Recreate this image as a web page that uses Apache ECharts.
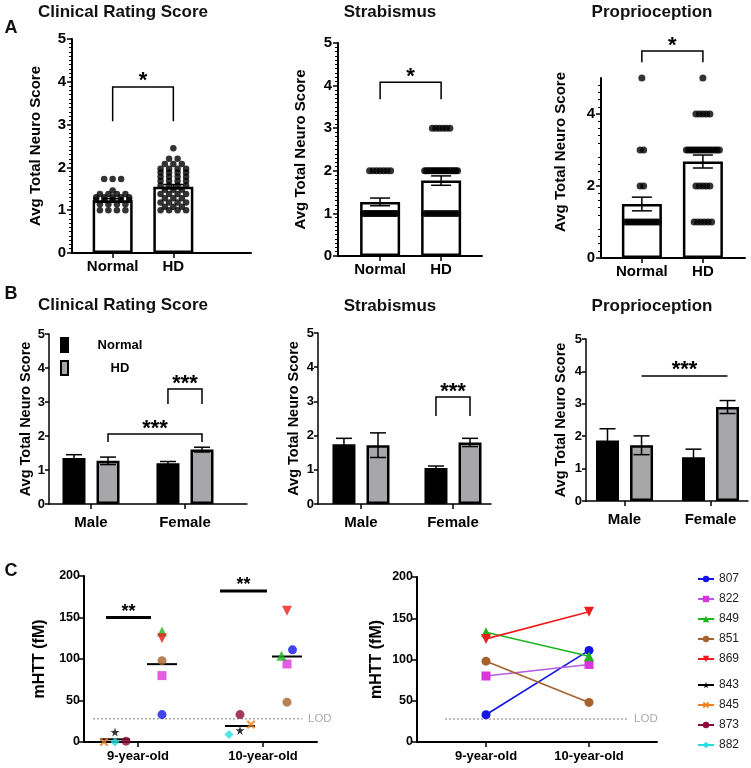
<!DOCTYPE html>
<html><head><meta charset="utf-8">
<script src="https://cdn.jsdelivr.net/npm/echarts@6/dist/echarts.min.js"></script>
<style>html,body{margin:0;padding:0;background:#fff}#c{width:751px;height:768px}</style>
</head><body><div id="c"></div>
<script>
// ================= DATA =================
const groupsA = ['Normal', 'HD'];
const clinicalNormalA = [1.73,1.73,1.73,1.46,1.38,1.38,1.38,1.38,1.30,1.30,1.30,1.30,1.30,1.24,1.24,1.24,1.24,1.24,1.14,1.14,1.14,1.14,1.00,1.00,1.00,1.00];
const clinicalHDA = [2.45,2.20,2.20,2.08,2.08,2.08,1.97,1.97,1.97,1.97,1.88,1.88,1.88,1.88,1.78,1.78,1.78,1.78,1.68,1.68,1.68,1.68,1.58,1.58,1.58,1.58,1.48,1.48,1.48,1.38,1.38,1.38,1.38,1.28,1.28,1.28,1.18,1.18,1.18,1.18,1.08,1.08,1.08,1.00,1.00,1.00,1.00];
const clinicalMeanA = [1.23, 1.55];
const clinicalSemA = [0.04, 0.05];
const strabNormalA = [2,2,2,2,2,2,2,1,1,1,1,1,1,1,1,1,1,1,1,1,1,1,1,1,1,1];
const strabHDA = [3,3,3,3,3,3,2,2,2,2,2,2,2,2,2,2,2,2,2,2,2,2,2,2,2,2,1,1,1,1,1,1,1,1,1,1,1,1,1,1];
const strabMeanA = [1.27, 1.77];
const strabSemA = [0.09, 0.11];
const propNormalA = [5,3,3,2,2,1,1,1,1,1,1,1,1,1,1,1,1,1,1,1];
const propHDA = [5,4,4,4,4,4,3,3,3,3,3,3,3,3,3,3,3,3,3,3,3,3,2,2,2,2,2,1,1,1,1,1,1];
const propMeanA = [1.50, 2.68];
const propSemA = [0.19, 0.18];

const sexB = ['Male', 'Female'];
const clinicalNormalB = [1.35, 1.20];
const clinicalNormalSemB = [0.10, 0.05];
const clinicalHDB = [1.27, 1.60];
const clinicalHDSemB = [0.11, 0.07];
const strabNormalB = [1.75, 1.05];
const strabNormalSemB = [0.17, 0.06];
const strabHDB = [1.72, 1.80];
const strabHDSemB = [0.36, 0.12];
const propNormalB = [1.87, 1.35];
const propNormalSemB = [0.36, 0.25];
const propHDB = [1.72, 2.90];
const propHDSemB = [0.29, 0.20];

const agesC = ['9-year-old', '10-year-old'];
const hdAnimals = ['807', '822', '849', '851', '869'];
const normalAnimals = ['843', '845', '873', '882'];
const m807 = [33, 111];
const m822 = [80, 94];
const m849 = [133, 104];
const m851 = [98, 48];
const m869 = [125, 158];
const m843 = [12, 14];
const m845 = [0, 21];
const m873 = [1, 33];
const m882 = [0, 9];
const LOD = 28;

// significance annotations (data units)
const sigClinicalA = [{x1:1, x2:2, top:3.88, bottom:3.08, text:'*'}];
const sigStrabA = [{x1:1, x2:2, top:4.08, bottom:3.68, text:'*'}];
const sigPropA = [{x1:1, x2:2, top:5.75, bottom:5.44, text:'*'}];
const sigClinicalB = [{x1:2, s1:'N', x2:2, s2:'H', top:3.38, bottom:2.94, text:'***'},
                      {x1:1, s1:'H', x2:2, s2:'H', top:2.06, bottom:1.82, text:'***'}];
const sigStrabB = [{x1:2, s1:'N', x2:2, s2:'H', top:3.13, bottom:2.57, text:'***'}];
const sigPropB = [{x1:1, s1:'H', x2:2, s2:'H', top:3.86, bottom:3.86, text:'***'}];
const sigC = [{x1:0.744, x2:1.104, top:150, bottom:150, text:'**'},
              {x1:1.656, x2:2.032, top:182, bottom:182, text:'**'}];

// ================= LAYOUT / STYLE =================
const FONT = '"Liberation Sans", Arial, Helvetica, sans-serif';
const grids = [
  {left:72, top:39, width:179, height:214},
  {left:338, top:43, width:144, height:213},
  {left:601, top:78, width:144, height:180},
  {left:49, top:334, width:198, height:170},
  {left:318, top:333, width:173, height:171},
  {left:586, top:339, width:162, height:162},
  {left:84, top:576, width:233, height:166},
  {left:417, top:577, width:240, height:165}
];
const xr = [[0.33,3.28],[0.31,2.67],[0.33,2.69],[0.553,2.66],[0.533,2.413],[0.552,2.436],[0.568,2.432],[0.33,2.66]];
const yMax = [5,5,5,5,5,5,200,200];
const pxX = g => grids[g].width / (xr[g][1] - xr[g][0]);
const pxY = g => grids[g].height / yMax[g];
const catLabels = [groupsA, groupsA, groupsA, sexB, sexB, sexB, agesC, agesC];
const yNames = ['Avg Total Neuro Score','Avg Total Neuro Score','Avg Total Neuro Score','Avg Total Neuro Score','Avg Total Neuro Score','Avg Total Neuro Score','mHTT (fM)','mHTT (fM)'];
const nameGaps = [29,30,33,16,17,18,36,32];

const BW = 23, BGAP = 0.48;
const OFF_B = BW * (1 + BGAP) / 2;

const symOf = {'807':'circle','822':'rect','849':'triangle','851':'circle','869':'triangle',
  '843':'path://M50,0L61,35L98,35L68,57L79,91L50,70L21,91L32,57L2,35L39,35Z',
  '845':'path://M0,18L18,0L50,32L82,0L100,18L68,50L100,82L82,100L50,68L18,100L0,82L32,50Z',
  '873':'circle','882':'diamond'};
const sizeOf = {'807':9,'822':9,'849':10,'851':9,'869':10,'843':9,'845':9,'873':9,'882':9};
const rotOf = {'869':180};
const markColor = {'807':'#1414e6','822':'#dc34dc','849':'#1eb41e','851':'#a6622c','869':'#ee1c1c','843':'#000000','845':'#f08020','873':'#8c0a37','882':'#22dede'};
const lineColor = Object.assign({}, markColor, {'822':'#b35ce2'});

// ================= HELPERS =================
function rowLayout(vals, xc, ppx, step, maxW) {
  const rows = new Map();
  vals.forEach(v => { if (!rows.has(v)) rows.set(v, []); rows.get(v).push(v); });
  const out = [];
  rows.forEach((arr, v) => {
    const n = arr.length;
    const s = n > 1 ? Math.min(step, maxW / (n - 1)) : 0;
    arr.forEach((_, j) => out.push([xc + (j - (n - 1) / 2) * s / ppx, v]));
  });
  return out;
}
function clusterOffsets(vals, ppy, D, step) {
  const idx = vals.map((v, i) => i).sort((a, b) => vals[a] - vals[b] || a - b);
  const off = vals.map(() => 0);
  let cl = [idx[0]];
  const flush = () => { const n = cl.length; cl.forEach((k, j) => off[k] = (j - (n - 1) / 2) * step); };
  for (let j = 1; j < idx.length; j++) {
    if ((vals[idx[j]] - vals[idx[j - 1]]) * ppy < D) cl.push(idx[j]);
    else { flush(); cl = [idx[j]]; }
  }
  flush();
  return off;
}
const mean = a => a.reduce((s, v) => s + v, 0) / a.length;

function errSeries(gi, items, cap, lw) {
  return {type:'custom', coordinateSystem:'cartesian2d', xAxisIndex:gi, yAxisIndex:gi, z:4, silent:true,
    data: items.map(d => [d[0], d[1], d[2]]),
    renderItem: (params, api) => {
      const d = items[params.dataIndex];
      const t = api.coord([d[0], d[1] + d[2]]), b = api.coord([d[0], d[1] - d[2]]);
      const cx = t[0] + (d[3] || 0), hw = cap / 2;
      const st = {stroke:'#000', lineWidth:lw};
      return {type:'group', children:[
        {type:'line', shape:{x1:cx, y1:t[1], x2:cx, y2:b[1]}, style:st},
        {type:'line', shape:{x1:cx-hw, y1:t[1], x2:cx+hw, y2:t[1]}, style:st},
        {type:'line', shape:{x1:cx-hw, y1:b[1], x2:cx+hw, y2:b[1]}, style:st}
      ]};
    }};
}
function bracketSeries(gi, list, lw, fs, tg) {
  return {type:'custom', coordinateSystem:'cartesian2d', xAxisIndex:gi, yAxisIndex:gi, z:6, silent:true, clip:false,
    data: list.map(b => [b.x1, b.top]),
    renderItem: (params, api) => {
      const b = list[params.dataIndex];
      const off = s => s === 'N' ? -OFF_B : (s === 'H' ? OFF_B : 0);
      const pL = api.coord([b.x1, b.top]), pR = api.coord([b.x2, b.top]);
      const yb = api.coord([b.x1, b.bottom])[1];
      const x1 = pL[0] + off(b.s1), x2 = pR[0] + off(b.s2), yt = pL[1];
      const pts = b.bottom === b.top ? [[x1, yt], [x2, yt]] : [[x1, yb], [x1, yt], [x2, yt], [x2, yb]];
      return {type:'group', children:[
        {type:'polyline', shape:{points:pts}, style:{stroke:'#000', fill:null, lineWidth:lw}},
        {type:'text', x:(x1 + x2) / 2, y:yt - tg, style:{text:b.text, fill:'#000', font:'bold ' + fs + 'px ' + FONT, align:'center', verticalAlign:'middle'}}
      ]};
    }};
}

// ================= AXES =================
const xAxis = grids.map((g, i) => {
  const isA = i < 3, isB = i >= 3 && i < 6;
  return {type:'value', gridIndex:i, min:xr[i][0], max:xr[i][1], splitLine:{show:false},
    axisLine:{show:true, onZero:false, lineStyle:{color:'#000', width:isB ? 1.5 : 2}},
    axisTick:{show:true, customValues:[1, 2], length:5, lineStyle:{color:'#000', width:1.5}},
    axisLabel:{show:true, customValues:[1, 2], formatter: v => catLabels[i][Math.round(v) - 1] || '',
      color:'#000', fontFamily:FONT, fontWeight:'bold', fontSize: i < 6 ? 15 : 13, margin: isA ? 6 : (isB ? 11 : 8)}};
});
const yAxis = grids.map((g, i) => {
  const isA = i < 3, isB = i >= 3 && i < 6, isC = i >= 6;
  const ax = {type:'value', gridIndex:i, min:0, max:yMax[i], interval: isC ? 50 : 1, splitLine:{show:false},
    axisLine:{show:true, onZero:false, lineStyle:{color:'#000', width:isB ? 1.5 : 2}},
    axisTick:{show:true, length: isB ? 4 : 5, lineStyle:{color:'#000', width:1.5}},
    minorTick:{show:isA, splitNumber: i === 2 ? 5 : 10, length:3, lineStyle:{color:'#000', width:1}},
    axisLabel:{color:'#000', fontFamily:FONT, fontWeight:'bold', fontSize: isA ? 15 : (isB ? 13 : 12.5), margin: isA ? 6 : 4},
    name: yNames[i], nameLocation:'middle', nameGap: nameGaps[i], nameMoveOverlap:false,
    nameTextStyle:{color:'#000', fontFamily:FONT, fontWeight:'bold', fontSize: isC ? 16 : (isA ? 15 : 14.5)}};
  if (i === 2) {
    ax.axisLabel.customValues = [0, 2, 4];
    ax.axisTick.customValues = [0, 2, 4];
    ax.nameTextStyle.padding = [0, 0, 0, 32];
  }
  return ax;
});

// ================= SERIES =================
const series = [];

// Panel C right: lines (first so legend picks line icons)
const hdVals = [m807, m822, m849, m851, m869];
const normVals = [m843, m845, m873, m882];
hdAnimals.forEach((id, k) => series.push({type:'line', name:id, xAxisIndex:7, yAxisIndex:7,
  data: agesC.map((a, i) => [i + 1, hdVals[k][i]]),
  symbol: symOf[id], symbolSize: sizeOf[id], symbolRotate: rotOf[id] || 0, showSymbol:true,
  lineStyle:{color:lineColor[id], width:1.6}, itemStyle:{color:markColor[id]}, z:4, silent:true}));
normalAnimals.forEach(id => series.push({type:'line', name:id, xAxisIndex:7, yAxisIndex:7, data:[],
  symbol: symOf[id], symbolSize: sizeOf[id], lineStyle:{color:lineColor[id], width:1.6}, itemStyle:{color:markColor[id]}, silent:true}));

// Panel A
const aPanels = [
  {n:clinicalNormalA, h:clinicalHDA, m:clinicalMeanA, s:clinicalSemA, sig:sigClinicalA, step:8.5, size:6.5},
  {n:strabNormalA, h:strabHDA, m:strabMeanA, s:strabSemA, sig:sigStrabA, step:3.5, size:7},
  {n:propNormalA, h:propHDA, m:propMeanA, s:propSemA, sig:sigPropA, step:3.5, size:7}
];
aPanels.forEach((p, gi) => {
  series.push({type:'bar', name:'A' + gi, xAxisIndex:gi, yAxisIndex:gi, barWidth:40,
    data: groupsA.map((g, i) => [i + 1, p.m[i]]),
    itemStyle:{color:'#fff', borderColor:'#000', borderWidth:2.5}, z:2, silent:true});
  series.push({type:'scatter', name:'Adots' + gi, xAxisIndex:gi, yAxisIndex:gi, symbolSize:p.size,
    data: rowLayout(p.n, 1, pxX(gi), p.step, 33).concat(rowLayout(p.h, 2, pxX(gi), p.step, 33)),
    itemStyle:{color:'#000'}, z:3, silent:true});
  series.push(errSeries(gi, groupsA.map((g, i) => [i + 1, p.m[i], p.s[i], 0]), 20, 1.5));
  series.push(bracketSeries(gi, p.sig, 1.5, 22, 5.5));
});

// Panel B
const bPanels = [
  {n:clinicalNormalB, ns:clinicalNormalSemB, h:clinicalHDB, hs:clinicalHDSemB, sig:sigClinicalB},
  {n:strabNormalB, ns:strabNormalSemB, h:strabHDB, hs:strabHDSemB, sig:sigStrabB},
  {n:propNormalB, ns:propNormalSemB, h:propHDB, hs:propHDSemB, sig:sigPropB}
];
bPanels.forEach((p, k) => {
  const gi = 3 + k;
  series.push({type:'bar', name:'Normal', xAxisIndex:gi, yAxisIndex:gi, barWidth:BW, barGap:(BGAP * 100) + '%',
    data: sexB.map((s, i) => [i + 1, p.n[i]]),
    itemStyle:{color:'#000', borderColor:'#000', borderWidth:2}, z:2, silent:true});
  series.push({type:'bar', name:'HD', xAxisIndex:gi, yAxisIndex:gi, barWidth:BW, barGap:(BGAP * 100) + '%',
    data: sexB.map((s, i) => [i + 1, p.h[i]]),
    itemStyle:{color:'#a7a7a9', borderColor:'#000', borderWidth:2.5}, z:2, silent:true});
  const items = sexB.map((s, i) => [i + 1, p.n[i], p.ns[i], -OFF_B]).concat(sexB.map((s, i) => [i + 1, p.h[i], p.hs[i], OFF_B]));
  series.push(errSeries(gi, items, 16, 1.5));
  series.push(bracketSeries(gi, p.sig, 1.5, 22, 5.5));
});

// Panel C left: scatter
const cGroups = [{ids:normalAnimals, vals:normVals, off:-23}, {ids:hdAnimals, vals:hdVals, off:24}];
const cX = {};
cGroups.forEach(g => {
  agesC.forEach((a, i) => {
    const vs = g.vals.map(v => v[i]);
    const offs = clusterOffsets(vs, pxY(6), 6, 11);
    g.ids.forEach((id, k) => { (cX[id] = cX[id] || [])[i] = i + 1 + (g.off + offs[k]) / pxX(6); });
  });
});
const meanItems = [];
cGroups.forEach(g => agesC.forEach((a, i) => meanItems.push([i + 1, mean(g.vals.map(v => v[i])), g.off])));
series.push({type:'custom', coordinateSystem:'cartesian2d', xAxisIndex:6, yAxisIndex:6, z:3, silent:true,
  data: meanItems.map(d => [d[0], d[1]]),
  renderItem: (params, api) => {
    const d = meanItems[params.dataIndex];
    const p = api.coord([d[0], d[1]]);
    const cx = p[0] + d[2];
    return {type:'line', shape:{x1:cx - 15, y1:p[1], x2:cx + 15, y2:p[1]}, style:{stroke:'#000', lineWidth:2}};
  }});
cGroups.forEach(g => g.ids.forEach((id, k) => series.push({type:'scatter', name:id, xAxisIndex:6, yAxisIndex:6,
  data: agesC.map((a, i) => [cX[id][i], g.vals[k][i]]),
  symbol: symOf[id], symbolSize: sizeOf[id], symbolRotate: rotOf[id] || 0,
  itemStyle:{color:markColor[id]}, z:5, silent:true})));
series.push(bracketSeries(6, sigC, 3, 18, 5.5));

// LOD lines
[[6, 0.64, 2.312], [7, 0.602, 2.379]].forEach(([gi, a, b]) => series.push({type:'line', name:'LOD', xAxisIndex:gi, yAxisIndex:gi,
  data:[[a, LOD], [b, LOD]], symbol:'none', silent:true, z:1,
  lineStyle:{type:[2, 2], color:'#a9a9a9', width:1.5},
  endLabel:{show:true, formatter:'LOD', color:'#a9a9a9', fontSize:11.5, fontFamily:FONT, distance:6}}));

// ================= OPTION =================
const titleStyle = (t, x, y, fs) => ({type:'text', x, y, silent:true,
  style:{text:t, fill:'#111', font:'bold ' + fs + 'px ' + FONT, align:'center', verticalAlign:'middle'}});
const option = {
  animation:false,
  grid: grids.map(g => Object.assign({containLabel:false, outerBoundsMode:'none'}, g)),
  xAxis, yAxis, series,
  legend: [
    {data:['Normal', 'HD'], orient:'vertical', left:60, top:337, padding:0, itemWidth:7, itemHeight:14, itemGap:7, itemTextGap:5,
      icon:'rect', selectedMode:false, formatter: n => '{a|' + n + '}',
      textStyle:{rich:{a:{width:94, align:'center', fontFamily:FONT, fontWeight:'bold', fontSize:13, color:'#000'}}}},
    {data:hdAnimals, orient:'vertical', left:697, top:573, padding:0, itemWidth:16, itemHeight:8, itemGap:8, itemTextGap:9,
      selectedMode:false, textStyle:{fontFamily:FONT, fontSize:12, color:'#222'}},
    {data:normalAnimals, orient:'vertical', left:697, top:679, padding:0, itemWidth:16, itemHeight:8, itemGap:8, itemTextGap:9,
      selectedMode:false, textStyle:{fontFamily:FONT, fontSize:12, color:'#222'}}
  ],
  graphic: [
    titleStyle('A', 11, 28, 18), titleStyle('B', 11, 294, 18), titleStyle('C', 11, 571, 18),
    titleStyle('Clinical Rating Score', 123, 12, 17), titleStyle('Strabismus', 390, 12, 17), titleStyle('Proprioception', 652, 12, 17),
    titleStyle('Clinical Rating Score', 123, 305, 17), titleStyle('Strabismus', 390, 306, 17), titleStyle('Proprioception', 652, 306, 17)
  ]
};
const chart = echarts.init(document.getElementById('c'));
chart.setOption(option);
</script>
</body></html>
